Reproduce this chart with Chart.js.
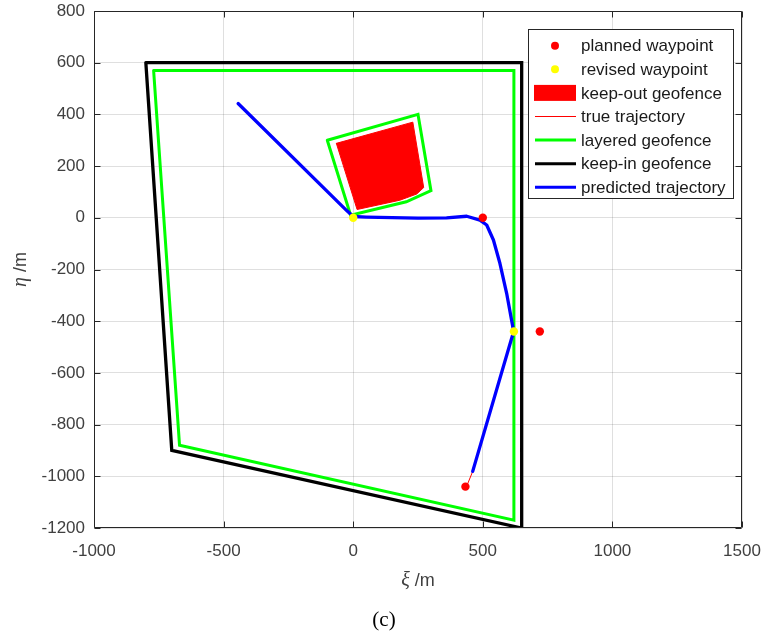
<!DOCTYPE html>
<html><head><meta charset="utf-8">
<script src="https://cdn.jsdelivr.net/npm/chart.js@4/dist/chart.umd.min.js"></script>
<style>html,body{margin:0;padding:0;background:#fff}#wrap{width:763px;height:641px;position:relative}</style>
</head><body><div id="wrap"><canvas id="c" width="763" height="641"></canvas></div>
<script>
// ---- data ----
const xiTicks = [-1000, -500, 0, 500, 1000, 1500];
const etaTicks = [-1200, -1000, -800, -600, -400, -200, 0, 200, 400, 600, 800];

const plannedXi = [500, 720, 433];
const plannedEta = [0, -440, -1040];
const revisedXi = [0, 620];
const revisedEta = [0, -440];

const keepOutXi = [-65, 230, 272, 245, 180, 15, -65];
const keepOutEta = [288, 370, 117, 92, 68, 32, 288];

const trueXi = [461, 440];
const trueEta = [-981, -1033];

const layeredXi = [-770, 620, 620, -670, -770];
const layeredEta = [570, 570, -1170, -880, 570];
const bufferXi = [-100, 250, 300, 205, -10, -100];
const bufferEta = [300, 400, 105, 62, 10, 300];

const keepInXi = [-800, 650, 650, -700, -800];
const keepInEta = [600, 600, -1200, -900, 600];

const predXi = [-444, -25, 0, 50, 150, 250, 360, 438, 489, 515, 541, 566, 592, 619, 461];
const predEta = [442, 28, 5, 3, 1, -1, 0, 6, -9, -28, -86, -176, -292, -440, -981];

const legendLabels = ['planned waypoint', 'revised waypoint', 'keep-out geofence', 'true trajectory',
  'layered geofence', 'keep-in geofence', 'predicted trajectory'];

// ---- build ----
const zip = (xs, ys) => xs.map((x, i) => ({x: x, y: ys[i]}));
const lineDs = (label, xs, ys, color, w) => ({
  label, data: zip(xs, ys), showLine: true, borderColor: color, borderWidth: w,
  pointRadius: 0, pointHoverRadius: 0, fill: false, borderJoinStyle: 'round', borderCapStyle: 'round', tension: 0
});

const datasets = [
  {label: legendLabels[0], data: zip(plannedXi, plannedEta), pointRadius: 4.2, pointBackgroundColor: '#ff0000', pointBorderWidth: 0, showLine: false},
  {label: legendLabels[1], data: zip(revisedXi, revisedEta), pointRadius: 4.2, pointBackgroundColor: '#ffff00', pointBorderWidth: 0, showLine: false},
  lineDs(legendLabels[6], predXi, predEta, '#0000ff', 3.3),
  lineDs(legendLabels[3], trueXi, trueEta, '#ff0000', 1),
  Object.assign(lineDs(legendLabels[4], bufferXi, bufferEta, '#00ff00', 3), {borderJoinStyle: 'miter'}),
  Object.assign(lineDs(legendLabels[2], keepOutXi, keepOutEta, '#ff0000', 0), {fill: 'shape', backgroundColor: '#ff0000', borderColor: '#ff0000', borderWidth: 1}),
  Object.assign(lineDs(legendLabels[4], layeredXi, layeredEta, '#00ff00', 3), {borderJoinStyle: 'miter'}),
  Object.assign(lineDs(legendLabels[5], keepInXi, keepInEta, '#000000', 3.3), {borderJoinStyle: 'miter'})
];

const SANS = '"Liberation Sans", Arial, sans-serif';
const SERIF = '"Liberation Serif", "Times New Roman", serif';
const AXIS = '#262626';

const overlay = {
  id: 'overlay',
  afterDraw(chart) {
    const {ctx, chartArea: a, scales: {x, y}} = chart;
    ctx.save();
    // axes box
    ctx.strokeStyle = AXIS; ctx.lineWidth = 1;
    const L = Math.round(a.left) + 0.5, R = Math.round(a.right) - 0.5, T = Math.round(a.top) + 0.5, B = Math.round(a.bottom) - 0.5;
    ctx.beginPath(); ctx.rect(L, T, R - L, B - T); ctx.stroke();
    // inward ticks
    ctx.beginPath();
    xiTicks.forEach(v => { const p = Math.round(x.getPixelForValue(v)) + 0.5; ctx.moveTo(p, B); ctx.lineTo(p, B - 6); ctx.moveTo(p, T); ctx.lineTo(p, T + 6); });
    etaTicks.forEach(v => { const p = Math.round(y.getPixelForValue(v)) + 0.5; ctx.moveTo(L, p); ctx.lineTo(L + 6, p); ctx.moveTo(R, p); ctx.lineTo(R - 6, p); });
    ctx.stroke();

    // legend
    const lx = 528.5, ly = 29.5, lw = 205, lh = 169;
    ctx.fillStyle = '#fff'; ctx.fillRect(lx, ly, lw, lh);
    ctx.strokeStyle = AXIS; ctx.lineWidth = 1; ctx.strokeRect(lx, ly, lw, lh);
    const rowY = i => 45.7 + i * 23.6;
    const sx0 = 535, sx1 = 576, sc = 555;
    ctx.fillStyle = '#ff0000'; ctx.beginPath(); ctx.arc(sc, rowY(0), 4, 0, Math.PI * 2); ctx.fill();
    ctx.fillStyle = '#ffff00'; ctx.beginPath(); ctx.arc(sc, rowY(1), 4, 0, Math.PI * 2); ctx.fill();
    ctx.fillStyle = '#ff0000'; ctx.fillRect(534, rowY(2) - 8, 42, 16);
    const seg = (i, c, w) => { ctx.strokeStyle = c; ctx.lineWidth = w; ctx.beginPath(); ctx.moveTo(sx0, rowY(i)); ctx.lineTo(sx1, rowY(i)); ctx.stroke(); };
    seg(3, '#ff0000', 1); seg(4, '#00ff00', 3); seg(5, '#000000', 3); seg(6, '#0000ff', 3);
    ctx.fillStyle = '#1a1a1a'; ctx.font = '17px ' + SANS; ctx.textBaseline = 'middle'; ctx.textAlign = 'left';
    legendLabels.forEach((t, i) => ctx.fillText(t, 581, rowY(i) + 1));

    // axis titles
    ctx.fillStyle = '#404040';
    const drawTitle = (sym, rest, cx, cy) => {
      ctx.font = 'italic 20px ' + SERIF; const w1 = ctx.measureText(sym).width;
      ctx.font = '18px ' + SANS; const w2 = ctx.measureText(rest).width;
      const start = cx - (w1 + w2) / 2;
      ctx.textAlign = 'left'; ctx.textBaseline = 'middle';
      ctx.font = 'italic 20px ' + SERIF; ctx.fillText(sym, start, cy);
      ctx.font = '18px ' + SANS; ctx.fillText(rest, start + w1, cy);
    };
    drawTitle('\u03BE', ' /m', (a.left + a.right) / 2, 581);
    ctx.save(); ctx.translate(21, (a.top + a.bottom) / 2); ctx.rotate(-Math.PI / 2);
    drawTitle('\u03B7', ' /m', 0, 0); ctx.restore();

    // caption
    ctx.fillStyle = '#000'; ctx.font = '21px ' + SERIF; ctx.textAlign = 'center'; ctx.textBaseline = 'middle';
    ctx.fillText('(c)', 384, 620);
    ctx.restore();
  }
};

Chart.defaults.font.family = SANS;
new Chart(document.getElementById('c'), {
  type: 'scatter',
  data: {datasets},
  options: {
    responsive: false, animation: false, devicePixelRatio: 1,
    layout: {padding: {top: 11, right: 21, left: 0, bottom: 0}},
    plugins: {legend: {display: false}, tooltip: {enabled: false}},
    scales: {
      x: {
        type: 'linear', min: -1000, max: 1500,
        afterFit: s => { s.height = 113; s.paddingLeft = 0; s.paddingRight = 0; },
        afterBuildTicks: s => { s.ticks = xiTicks.map(v => ({value: v})); },
        grid: {color: 'rgba(38,38,38,0.15)', drawTicks: false},
        border: {display: false},
        ticks: {color: '#404040', font: {size: 17}, padding: 13, maxRotation: 0, autoSkip: false, callback: v => String(v)}
      },
      y: {
        type: 'linear', min: -1200, max: 800,
        afterFit: s => { s.width = 94; s.paddingTop = 0; s.paddingBottom = 0; },
        afterBuildTicks: s => { s.ticks = etaTicks.map(v => ({value: v})); },
        grid: {color: 'rgba(38,38,38,0.15)', drawTicks: false},
        border: {display: false},
        ticks: {color: '#404040', font: {size: 17}, padding: 9, autoSkip: false, callback: v => String(v)}
      }
    }
  },
  plugins: [overlay]
});
</script></body></html>
